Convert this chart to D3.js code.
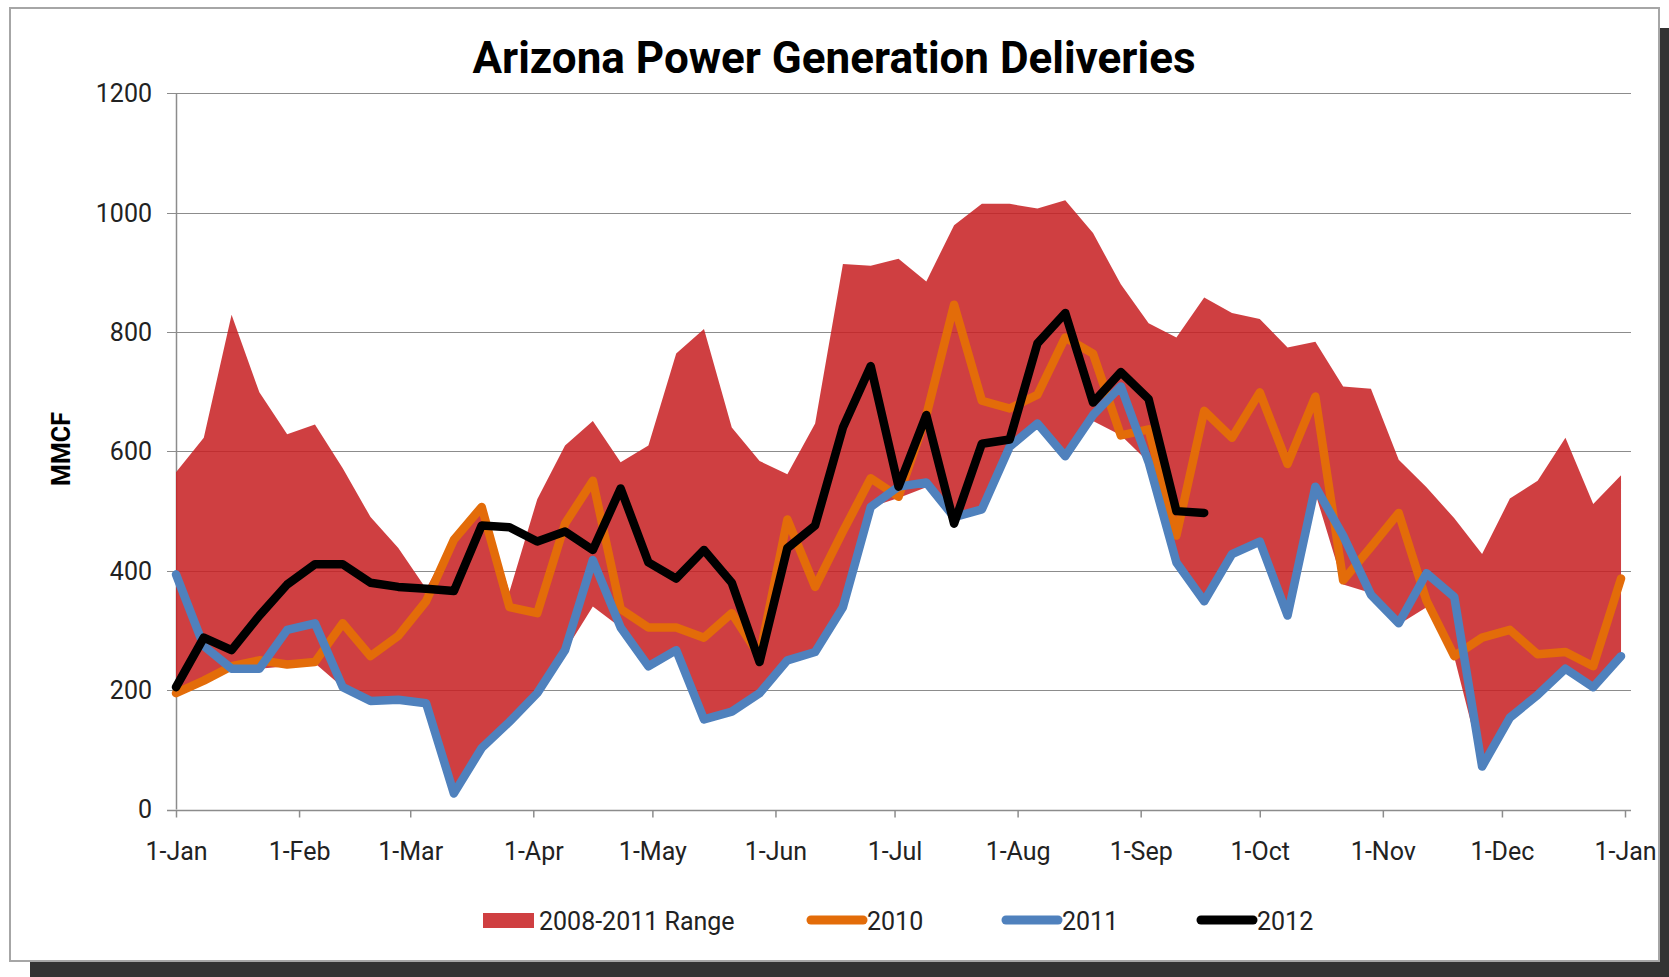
<!DOCTYPE html>
<html>
<head>
<meta charset="utf-8">
<title>Arizona Power Generation Deliveries</title>
<script src="https://cdn.jsdelivr.net/npm/d3@7/dist/d3.min.js"></script>
<style>
body { margin:0; background:#fff; }
text { font-family: Roboto, "Liberation Sans", sans-serif; }
</style>
</head>
<body>
<svg id="chart" width="1669" height="977"></svg>
<script>
// weekly points, first one on 1-Jan
var weekCount = 53
var rangeHigh = [565,623,829,699,629,645,572,490,438,370,455,510,365,520,610,651,582,610,764,805,640,584,562,647,914,911,923,885,979,1015,1015,1007,1021,966,880,815,791,858,832,822,774,784,709,705,586,540,488,428,521,551,623,512,560]
var rangeLow  = [193,212,236,236,240,245,205,182,184,178,27,103,147,195,265,340,305,240,267,151,164,195,250,264,339,507,522,540,488,503,600,647,592,651,627,582,414,342,428,449,325,530,377,363,310,339,255,72,154,192,236,205,257]
var y2010 = [195,216,240,250,243,247,312,257,291,349,452,507,339,329,479,551,336,305,305,288,329,257,486,373,466,555,524,660,846,685,672,695,791,764,627,637,459,668,623,699,579,692,384,440,497,350,257,288,301,260,264,240,387]
var y2011 = [394,274,236,236,301,312,205,182,184,178,27,103,147,195,267,418,305,240,267,151,164,195,250,264,339,507,541,548,490,503,608,647,592,661,709,582,414,349,428,449,325,541,459,360,312,396,356,72,154,192,236,205,257]
var y2012 = [205,288,267,325,377,411,411,380,373,370,366,476,473,449,466,435,538,414,387,435,380,247,438,476,640,743,541,661,479,613,620,781,832,682,733,688,500,497]
var monthLabels = ["1-Jan","1-Feb","1-Mar","1-Apr","1-May","1-Jun","1-Jul","1-Aug","1-Sep","1-Oct","1-Nov","1-Dec","1-Jan"]
var yTicks = [0,200,400,600,800,1000,1200]
var legendNames = ["2008-2011 Range","2010","2011","2012"]

var colRange = "#c72022", colOrange = "#e36c09", colBlue = "#4f81bd", colBlack = "#000"
var fs = 25

var svg = d3.select("#chart")

// frame with shadow
svg.append("rect").attr("x",30).attr("y",28).attr("width",1639).attr("height",949).attr("fill","#333")
svg.append("rect").attr("x",10).attr("y",8).attr("width",1649).attr("height",953)
    .attr("fill","#fff").attr("stroke","#a6a6a6").attr("stroke-width",2)

var start = new Date(Date.UTC(2011,0,1))
var weeks = d3.range(weekCount).map(function(i){ return d3.utcDay.offset(start, 7*i) })
var months = d3.range(13).map(function(m){ return new Date(Date.UTC(2011,m,1)) })

var x = d3.scaleUtc().domain([start, new Date(Date.UTC(2012,0,1))]).range([176,1625])
var y = d3.scaleLinear().domain([0,1200]).range([809.5,93.4])

// gridlines
svg.append("g").selectAll("line").data(yTicks).enter().append("line")
    .attr("x1",167).attr("x2",1631)
    .attr("y1",function(d){ return Math.round(y(d))+0.5 })
    .attr("y2",function(d){ return Math.round(y(d))+0.5 })
    .attr("stroke","#8c8c8c").attr("stroke-width",1.2)

svg.append("line").attr("x1",176.5).attr("x2",176.5).attr("y1",y(1200)).attr("y2",y(0))
    .attr("stroke","#8c8c8c").attr("stroke-width",1.5)

// y labels
svg.append("g").selectAll("text").data(yTicks).enter().append("text")
    .attr("x",152).attr("y",function(d){ return y(d) })
    .attr("dy","0.35em").attr("text-anchor","end")
    .attr("font-size",fs).attr("fill","#222")
    .text(function(d){ return d })

// x axis
var xAxis = d3.axisBottom(x).tickValues(months).tickSize(7).tickPadding(25)
    .tickFormat(function(d,i){ return monthLabels[i] })
var gx = svg.append("g").attr("transform","translate(0,"+ (Math.round(y(0))+0.5) +")").call(xAxis)
gx.select(".domain").attr("d","M167,0H1631").attr("stroke","#8c8c8c").attr("stroke-width",1.5)
gx.selectAll(".tick line").attr("stroke","#8c8c8c").attr("stroke-width",1.5)
gx.selectAll(".tick text").attr("font-size",fs).attr("fill","#222").attr("font-family","Roboto, sans-serif")

// range area
var area = d3.area()
    .x(function(d,i){ return x(weeks[i]) })
    .y0(function(d,i){ return y(rangeLow[i]) })
    .y1(function(d){ return y(d) })
svg.append("path").datum(rangeHigh).attr("d",area)
    .attr("fill",colRange).attr("fill-opacity",0.86)

var line = d3.line()
    .x(function(d,i){ return x(weeks[i]) })
    .y(function(d){ return y(d) })

function drawSeries(vals, col)
{
  svg.append("path").datum(vals).attr("d",line)
    .attr("fill","none").attr("stroke",col).attr("stroke-width",8.5)
    .attr("stroke-linejoin","round").attr("stroke-linecap","round")
}
drawSeries(y2010, colOrange)
drawSeries(y2011, colBlue)
drawSeries(y2012, colBlack)

// title
svg.append("text").attr("x",834).attr("y",73).attr("text-anchor","middle")
    .attr("font-size",44).attr("font-weight","bold").attr("fill","#000")
    .text("Arizona Power Generation Deliveries")

// axis title
svg.append("text").attr("transform","translate(70,449) rotate(-90)")
    .attr("text-anchor","middle").attr("font-size",25).attr("font-weight","bold")
    .attr("font-family","'Liberation Sans', Arial, sans-serif")
    .text("MMCF")

// legend
var lg = svg.append("g")
lg.append("rect").attr("x",483).attr("y",913).attr("width",51).attr("height",15).attr("fill",colRange).attr("fill-opacity",0.86)
lg.append("text").attr("x",539).attr("y",921).attr("dy","0.35em").attr("font-size",fs).attr("fill","#222").text(legendNames[0])

var lineItems = [[807,colOrange,legendNames[1]],[1002,colBlue,legendNames[2]],[1197,colBlack,legendNames[3]]]
lineItems.forEach(function(it){
  lg.append("line").attr("x1",it[0]+4).attr("x2",it[0]+56).attr("y1",920).attr("y2",920)
    .attr("stroke",it[1]).attr("stroke-width",9).attr("stroke-linecap","round")
  lg.append("text").attr("x",it[0]+60).attr("y",921).attr("dy","0.35em").attr("font-size",fs).attr("fill","#222").text(it[2])
})
</script>
</body>
</html>
